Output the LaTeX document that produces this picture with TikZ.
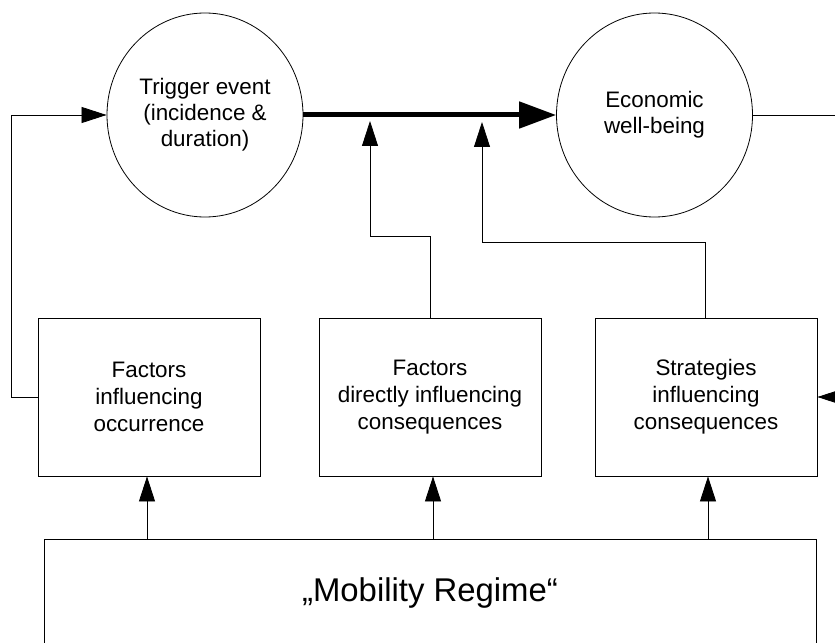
\documentclass[tikz,border=0pt]{standalone}
\usepackage{fontspec}
\setmainfont{Liberation Sans}
\usetikzlibrary{arrows.meta,shapes.geometric,calc}
\tikzset{
  circ/.style={draw, ellipse, line width=0.8bp, minimum width=196bp, minimum height=204bp, inner sep=0pt, align=center, font=\fontsize{22.5}{26}\selectfont},
  factorbox/.style={draw, rectangle, line width=0.8bp, minimum width=222bp, minimum height=158bp, inner sep=0pt, align=center, font=\fontsize{22.5}{27}\selectfont},
  regimebox/.style={draw, rectangle, line width=0.8bp, minimum width=772bp, minimum height=108bp, inner sep=0pt, align=center, font=\fontsize{33}{38}\selectfont},
  conn/.style={line width=0.8bp},
  arr/.style={line width=0.8bp, -{Triangle[length=25bp,width=16bp]}},
  bigarr/.style={line width=5bp, -{Triangle[length=37bp,width=26bp]}}
}
\begin{document}
\begin{tikzpicture}[x=1bp,y=-1bp]
\useasboundingbox (0,0) rectangle (835,643);
\node[circ] (trig) at (205,115) {Trigger event\\(incidence \&\\duration)};
\node[circ] (econ) at (654.5,115) {Economic\\well-being};
\node[factorbox] (box1) at (149,397) {Factors\\influencing\\occurrence};
\node[factorbox] (box2) at (430,397) {Factors\\directly influencing\\consequences};
\node[factorbox] (box3) at (706,397) {Strategies\\influencing\\consequences};
\node[regimebox] (mob) at (430,593) {„Mobility Regime“};
\coordinate (t1) at (370,121);
\coordinate (t2) at (482,122);
\coordinate (rightend) at (845,115);
\coordinate (rightstart) at (870,397);
% main thick arrow
\draw[bigarr] (trig.east) -- (econ.west);
% arrows from regime to boxes
\draw[arr] (mob.north -| 147,0) -- (box1.south -| 147,0);
\draw[arr] (mob.north -| 433,0) -- (box2.south -| 433,0);
\draw[arr] (mob.north -| 708,0) -- (box3.south -| 708,0);
% feedback to trigger
\draw[arr] (box1.west) -- ++(-26,0) |- (trig.west);
% factors directly influencing consequences
\draw[arr] (box2.north) -- (430,236) -| (t1);
% strategies
\draw[arr] (box3.north -| 705,0) -- (705,242) -| (t2);
% exit right
\draw[conn] (econ.east) -- (rightend);
\draw[arr] (rightstart) -- (box3.east);
\end{tikzpicture}
\end{document}
